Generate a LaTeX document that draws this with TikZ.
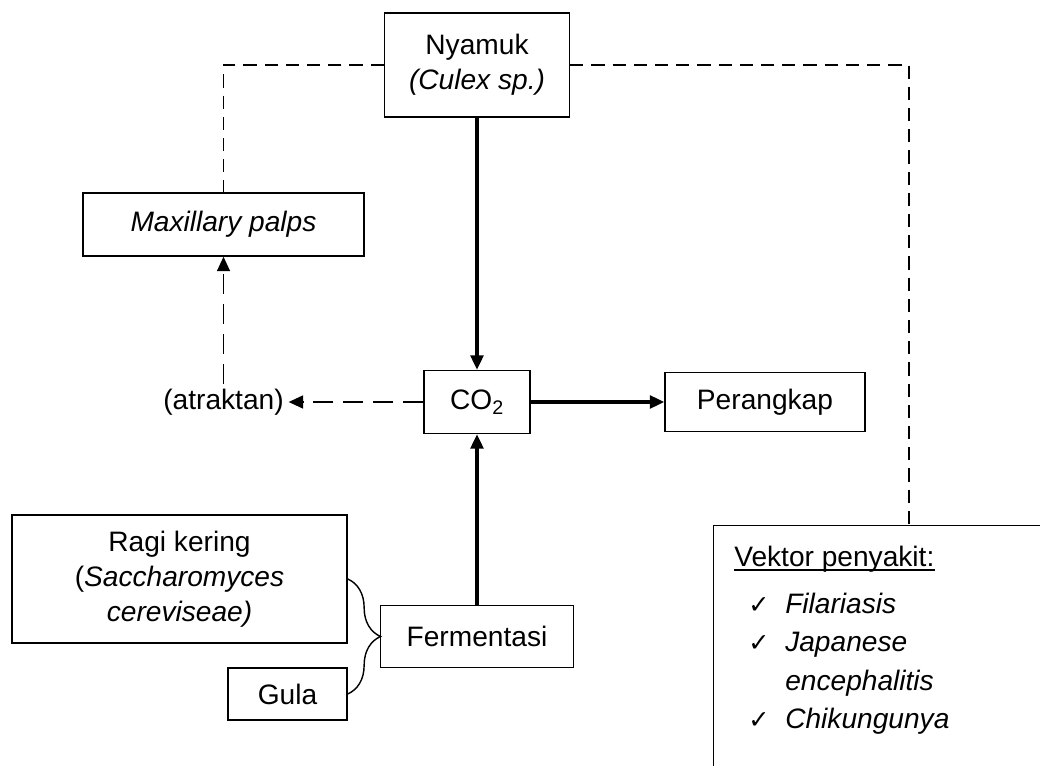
\documentclass[tikz,border=0pt]{standalone}
\usepackage{fontspec}
\setmainfont{Liberation Sans}
\newfontfamily\centang{DejaVu Sans}
\newcommand{\cek}{{\centang\fontsize{18}{18}\selectfont ✓}}
\usetikzlibrary{arrows.meta,
                decorations.pathreplacing,
                positioning
            }

\tikzset{
    kotak/.style={draw, line width=1pt, align=center, inner sep=0pt},
    panah/.style={line width=2.2pt, -{Triangle[length=0.36cm, width=0.32cm]}},
    panahputus/.style={line width=1.4pt, dash pattern=on 0.5cm off 0.25cm,
                       -{Triangle[length=0.36cm, width=0.32cm]}},
    garisputus/.style={line width=1pt, dash pattern=on 0.33cm off 0.2cm},
    kurung/.style={line width=1pt, decorate,
                   decoration={brace, amplitude=0.82cm}},
    baris/.style={anchor=base west, inner sep=0pt}
}

\begin{document}
\begin{tikzpicture}[x=0.025cm, y=-0.025cm,
                    every node/.style={font=\fontsize{20}{25}\selectfont}]
            \useasboundingbox (0, 0) rectangle (1040, 766);
            \clip (0, 0) rectangle (1040, 766);

            \node[kotak, minimum width=4.625cm, minimum height=2.6cm] (nyamuk) at (477, 65) {Nyamuk\\\textit{(Culex sp.)}};
            \node[kotak, minimum width=7.025cm, minimum height=1.575cm] (palps) at (223.5, 224.5) {\textit{Maxillary palps}};
            \node[inner sep=0.33em] (atraktan) at (223.5, 402) {(atraktan)};
            \node[kotak, minimum width=2.65cm, minimum height=1.575cm] (co2) at (477, 402) {CO\textsubscript{2}};
            \node[kotak, minimum width=5cm, minimum height=1.475cm] (perangkap) at (765, 402) {Perangkap};
            \node[kotak, minimum width=4.825cm, minimum height=1.55cm] (fermentasi) at (477, 636.5) {Fermentasi};
            \node[kotak, minimum width=8.375cm, minimum height=3.2cm] (ragi) at (179.5, 579) {Ragi kering\\(\textit{Saccharomyces}\\\textit{cereviseae)}};
            \node[kotak, minimum width=2.975cm, minimum height=1.3cm] (gula) at (287.5, 694) {Gula};
            \node[kotak, anchor=north west, minimum width=9cm, minimum height=7cm] (vektor) at (713, 525) {};

            % isi kotak vektor
            \node[baris] (judul) at (734, 567) {Vektor penyakit:};
            \node[baris] (item1) at (748, 614) {\makebox[0.925cm][l]{\cek}\textit{Filariasis}};
            \node[baris] (item2) at (748, 652) {\makebox[0.925cm][l]{\cek}\textit{Japanese}};
            \node[baris] (item2b) at (785, 690) {\textit{encephalitis}};
            \node[baris] (item3) at (748, 728) {\makebox[0.925cm][l]{\cek}\textit{Chikungunya}};
            \draw[line width=1.3pt] ([yshift=-0.07cm]judul.base west) -- ([yshift=-0.07cm]judul.base east);

            \coordinate (sudut) at (909, 65);

            \draw[panah] (nyamuk) -- (co2);
            \draw[panah] (co2) -- (perangkap);
            \draw[panah] (fermentasi) -- (co2);
            \draw[panahputus] (co2) -- (atraktan);
            \draw[panahputus] (atraktan) -- (palps);
            \draw[garisputus] (nyamuk.west) -| (palps.north);
            \draw[garisputus] (nyamuk.east) -- (sudut) -- (sudut |- vektor.north);
            \draw[kurung] (ragi.east) -- (gula.east);
        \end{tikzpicture}
\end{document}
